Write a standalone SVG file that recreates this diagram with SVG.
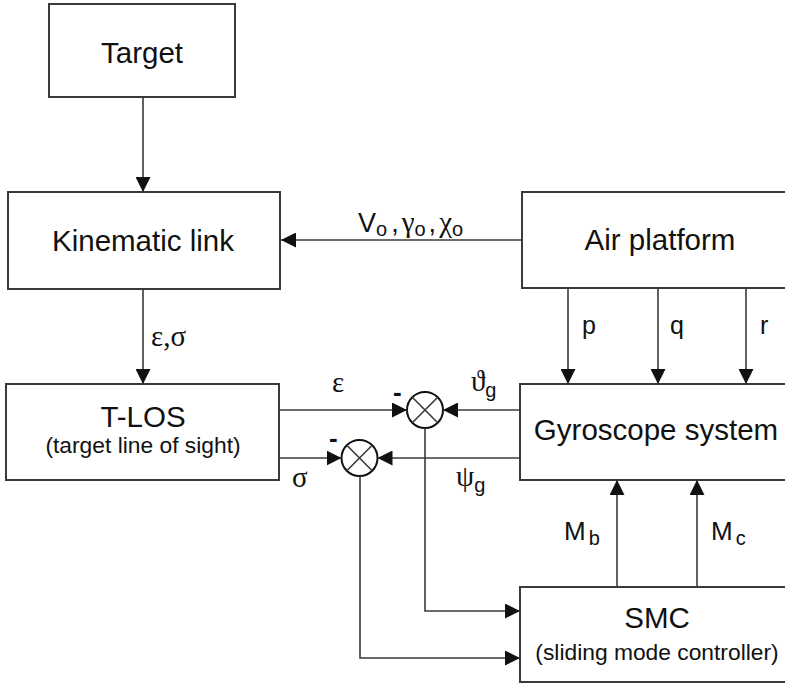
<svg xmlns="http://www.w3.org/2000/svg" width="785" height="685" viewBox="0 0 785 685">
<defs>
<marker id="ah" markerUnits="userSpaceOnUse" markerWidth="16" markerHeight="15" refX="15" refY="7.5" orient="auto">
<path d="M0,0 L15,7.5 L0,15 z" fill="#111"/>
</marker>
<style>
.box{fill:#fff;stroke:#3a3a3a;stroke-width:2}
.ln{fill:none;stroke:#3a3a3a;stroke-width:1.6}
.ar{fill:none;stroke:#3a3a3a;stroke-width:1.6;marker-end:url(#ah)}
.t{font-family:"Liberation Sans",Arial,sans-serif;fill:#111;text-anchor:middle}
.big{font-size:29.5px}
.sm{font-size:22.8px}
.lab{font-family:"Liberation Sans",Arial,sans-serif;fill:#111;font-size:25px}
.gr{font-family:"Liberation Serif","Times New Roman",serif;fill:#111;font-size:29px}
.sub{font-family:"Liberation Sans",Arial,sans-serif;fill:#111;font-size:20px}
.minus{font-family:"Liberation Sans",Arial,sans-serif;font-weight:bold;font-size:26px;fill:#111}
</style>
</defs>
<rect width="785" height="685" fill="#fff"/>

<g id="target">
<rect class="box" x="49" y="4" width="186" height="93"/>
<text class="t big" x="142" y="63">Target</text>
</g>
<g id="kinematic">
<rect class="box" x="8" y="192" width="272" height="97"/>
<text class="t big" x="143" y="251">Kinematic link</text>
</g>
<g id="airplatform">
<rect class="box" x="522" y="192" width="280" height="96"/>
<text class="t big" x="660" y="250">Air platform</text>
</g>
<g id="tlos">
<rect class="box" x="6" y="384" width="273" height="96"/>
<text class="t big" x="143" y="427">T-LOS</text>
<text class="t sm" x="143" y="453">(target line of sight)</text>
</g>
<g id="gyro">
<rect class="box" x="520" y="384" width="280" height="96"/>
<text class="t big" x="656" y="440">Gyroscope system</text>
</g>
<g id="smc">
<rect class="box" x="520" y="587" width="280" height="95"/>
<text class="t big" x="657" y="628">SMC</text>
<text class="t sm" x="657" y="660">(sliding mode controller)</text>
</g>
<g id="sum1">
<circle cx="425" cy="410" r="18" fill="#fff" stroke="#111" stroke-width="2"/>
<path class="ln" d="M412.3,397.3 L437.7,422.7 M437.7,397.3 L412.3,422.7" stroke="#111"/>
<text class="minus" x="393" y="401">-</text>
</g>
<g id="sum2">
<circle cx="359.5" cy="458" r="18" fill="#fff" stroke="#111" stroke-width="2"/>
<path class="ln" d="M346.8,445.3 L372.2,470.7 M372.2,445.3 L346.8,470.7" stroke="#111"/>
<text class="minus" x="329" y="447">-</text>
</g>

<g id="connectors">
<line class="ar" x1="143" y1="97" x2="143" y2="192"/>
<line class="ar" x1="522" y1="240" x2="281" y2="240"/>
<line class="ar" x1="143" y1="289" x2="143" y2="384"/>
<line class="ar" x1="568" y1="288" x2="568" y2="384"/>
<line class="ar" x1="658" y1="288" x2="658" y2="384"/>
<line class="ar" x1="746" y1="288" x2="746" y2="384"/>
<line class="ar" x1="279" y1="410" x2="407" y2="410"/>
<line class="ar" x1="279" y1="458" x2="341.5" y2="458"/>
<line class="ar" x1="520" y1="410" x2="443" y2="410"/>
<line class="ar" x1="520" y1="458" x2="377.5" y2="458"/>
<polyline class="ar" points="425,428 425,611 520,611"/>
<polyline class="ar" points="360,476 360,658 520,658"/>
<line class="ar" x1="617" y1="587" x2="617" y2="480"/>
<line class="ar" x1="697" y1="587" x2="697" y2="480"/>
</g>

<g id="labels">
<text x="358" y="232"><tspan class="lab" style="font-size:27px">V</tspan><tspan class="sub" dy="4">o</tspan><tspan class="lab" style="font-size:27px" dx="4" dy="-4">,</tspan><tspan class="gr" dx="3">γ</tspan><tspan class="sub" dy="4">o</tspan><tspan class="lab" style="font-size:27px" dx="3" dy="-4">,</tspan><tspan class="gr" dx="3">χ</tspan><tspan class="sub" dy="4">o</tspan></text>
<text class="gr" x="151" y="346">ε,σ</text>
<text class="gr" x="332" y="392">ε</text>
<text class="gr" x="292" y="487">σ</text>
<text x="471" y="391"><tspan class="gr">ϑ</tspan><tspan class="sub" dy="6">g</tspan></text>
<text x="456" y="486"><tspan class="gr">ψ</tspan><tspan class="sub" dy="6">g</tspan></text>
<text class="lab" x="582" y="334">p</text>
<text class="lab" x="670" y="334">q</text>
<text class="lab" x="760" y="334">r</text>
<text x="564" y="540"><tspan class="lab" style="font-size:26px">M</tspan><tspan class="sub" dx="3" dy="5">b</tspan></text>
<text x="711" y="540"><tspan class="lab" style="font-size:26px">M</tspan><tspan class="sub" dx="3" dy="5">c</tspan></text>
</g>
</svg>
